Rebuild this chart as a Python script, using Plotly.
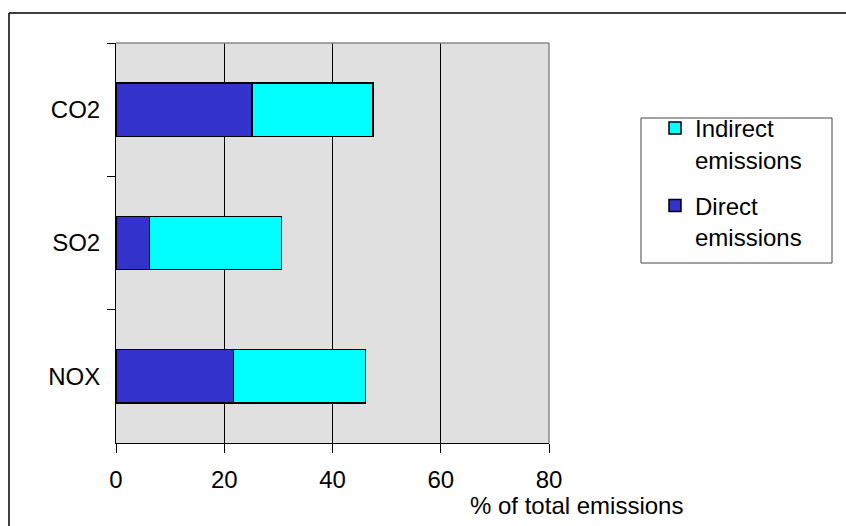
import plotly.graph_objects as go

categories = ["CO2", "SO2", "NOX"]
direct = [25.1, 6.2, 21.7]
indirect = [22.4, 24.4, 24.4]
x_ticks = [0, 20, 40, 60, 80]

FONT = "Liberation Sans, Arial, sans-serif"
FS = 24

fig = go.Figure()
fig.add_trace(go.Bar(
    y=categories, x=direct, orientation="h", name="Direct<br>emissions",
    legendgroup="d", legendrank=2,
    marker=dict(color="#3333CC", line=dict(color="black", width=1.5)),
))
fig.add_trace(go.Bar(
    y=categories, x=indirect, orientation="h", name="Indirect<br>emissions",
    legendgroup="i", legendrank=1,
    marker=dict(color="#00FFFF", line=dict(color="black", width=1.5)),
))

L, R, T, B = 116, 846 - 549, 43, 526 - 443
W, H = 846 - L - R, 526 - T - B

def px(x):
    return (x - L) / W

def py(y):
    return (526 - B - y) / H

fig.update_layout(
    width=846, height=526,
    margin=dict(l=L, r=R, t=T, b=B, pad=0),
    barmode="stack", bargap=0.6,
    plot_bgcolor="#E0E0E0", paper_bgcolor="white",
    font=dict(family=FONT, size=FS, color="black"),
    showlegend=True,
    legend=dict(
        x=px(655), y=py(106), xanchor="left", yanchor="top",
        traceorder="grouped", bgcolor="rgba(0,0,0,0)", borderwidth=0,
        font=dict(family=FONT, size=FS, color="black"),
        itemwidth=30, tracegroupgap=12, valign="top",
    ),
    xaxis=dict(
        range=[0, 80], tickvals=x_ticks, ticktext=[str(v) for v in x_ticks],
        showgrid=True, gridcolor="black", gridwidth=1,
        showline=True, linecolor="black", linewidth=1,
        ticks="outside", ticklen=9, tickcolor="black",
        zeroline=False, mirror=False, fixedrange=True, ticklabelstandoff=6,
        tickfont=dict(family=FONT, size=FS),
    ),
    yaxis=dict(
        categoryorder="array", categoryarray=categories, autorange="reversed",
        showline=True, linecolor="black", linewidth=1,
        ticks="outside", ticklen=8, tickcolor="black", tickson="boundaries",
        showgrid=False, zeroline=False, ticklabelstandoff=10,
        tickfont=dict(family=FONT, size=FS),
    ),
    shapes=[
        dict(type="line", xref="paper", yref="paper", x0=0, x1=1, y0=1, y1=1,
             line=dict(color="#888888", width=1.5)),
        dict(type="line", xref="paper", yref="paper", x0=1, x1=1, y0=0, y1=1,
             line=dict(color="#888888", width=1.5)),
        dict(type="rect", xref="paper", yref="paper",
             x0=px(641), x1=px(832), y0=py(263), y1=py(118),
             line=dict(color="#444444", width=1), fillcolor="rgba(0,0,0,0)", layer="below"),
        dict(type="line", xref="paper", yref="paper", x0=px(9), x1=px(9), y0=py(526), y1=py(13),
             line=dict(color="black", width=1.5)),
        dict(type="line", xref="paper", yref="paper", x0=px(9), x1=px(846), y0=py(13), y1=py(13),
             line=dict(color="black", width=1.5)),
    ],
    annotations=[
        dict(text="% of total emissions", xref="paper", yref="paper",
             x=px(468), y=py(490), xanchor="left", yanchor="top", showarrow=False,
             font=dict(family=FONT, size=FS, color="black")),
    ],
)

fig.write_html("out.html")
